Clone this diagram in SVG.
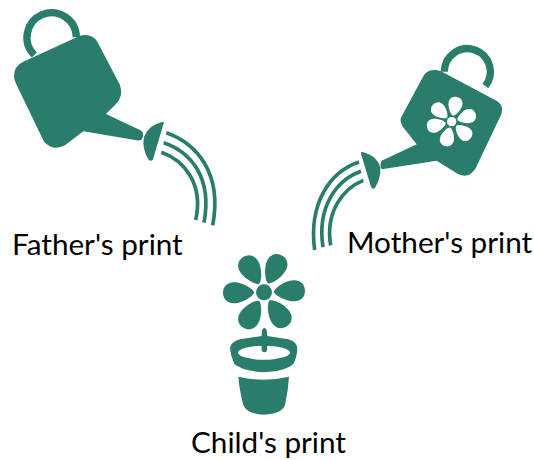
<svg xmlns="http://www.w3.org/2000/svg" width="534" height="460" viewBox="0 0 534 460">
<style>
.f{fill:#2a7d6b}
.s{fill:none;stroke:#2a7d6b;stroke-linecap:butt}
.t{font-family:"Lato","Liberation Sans",sans-serif;font-size:29.7px;fill:#000}
</style>
<defs>
<path id="petal" d="M0,-10C-3,-10 -10.5,-21 -10.5,-30C-10.5,-37 -6,-41 0,-41C6,-41 10.5,-37 10.5,-30C10.5,-21 3,-10 0,-10Z"/>
</defs>
<rect width="534" height="460" fill="#fff"/>
<g id="father-can" transform="scale(.33333)">
<path class="s" stroke-width="22" d="M103,165A74,74 0 1 1 229,112"/>
<path class="f" d="M42,232Q40,198 70,185L240,107Q275,98 292,125L360,255Q372,290 345,315L318,342L420,390Q432,397 429,410Q425,424 410,421L250,394L195,436Q160,455 132,425L50,255Q44,245 42,232Z"/>
<path class="f" d="M489,365Q445,375 432,410Q425,445 445,478Q452,487 459,478L491,370Q492,365 489,365Z"/>
<path class="s" stroke-width="11" d="M499,398C590,430 668,520 638,676"/>
<path class="s" stroke-width="11" d="M491,428C570,455 638,530 612,668"/>
<path class="s" stroke-width="11" d="M484,457C550,480 612,550 587,660"/>
</g>
<g id="mother-can" transform="translate(300,30) scale(.33333)">
<path class="s" stroke-width="22" d="M433,125A69,69 0 1 1 556,168"/>
<path class="f" d="M302,265Q300,280 312,295L350,343L245,392Q238,405 245,418L410,392L470,430Q505,450 527,415L603,255Q615,225 585,210L423,124Q390,112 372,135Z"/>
<path class="f" d="M184,365Q230,375 241,412Q243,445 225,473Q218,481 213,470L184,375Q182,367 184,365Z"/>
<path class="s" stroke-width="11" d="M177,396C90,425 25,520 44,660"/>
<path class="s" stroke-width="11" d="M183,424C110,450 50,530 69,652"/>
<path class="s" stroke-width="11" d="M190,451C130,475 75,545 92,646"/>
<g fill="#fff" transform="translate(455,275)">
<use href="#petal" transform="rotate(12) scale(2,1.85)"/>
<use href="#petal" transform="rotate(72) scale(2,1.85)"/>
<use href="#petal" transform="rotate(132) scale(2,1.85)"/>
<use href="#petal" transform="rotate(195) scale(2,1.85)"/>
<use href="#petal" transform="rotate(257) scale(2,1.85)"/>
<use href="#petal" transform="rotate(312) scale(2,1.85)"/>
<circle r="14"/>
</g>
</g>
<g id="child-plant" transform="translate(180,240) scale(.33333)">
<g class="f" transform="translate(252,157) scale(3)">
<circle r="8"/>
<use href="#petal" transform="rotate(-30)"/>
<use href="#petal" transform="rotate(25)"/>
<use href="#petal" transform="rotate(87)"/>
<use href="#petal" transform="rotate(146)"/>
<use href="#petal" transform="rotate(210)"/>
<use href="#petal" transform="rotate(269)"/>
</g>
<path class="f" d="M150,325Q152,305 180,298L245,288L246,270Q253,258 260,270L262,288L325,298Q352,305 352,328Q350,355 340,372Q320,392 252,397Q185,392 163,372Q152,350 150,325Z"/>
<ellipse cx="252" cy="338" rx="78" ry="21" fill="#fff"/>
<path class="f" d="M245,300L261,300L261,332Q253,342 245,332Z"/>
<path class="f" d="M175,410Q250,428 327,410Q325,450 315,495Q305,522 252,524Q200,522 190,495Q178,450 175,410Z"/>
</g>
<text class="t" x="12" y="255">Father's print</text>
<text class="t" x="347" y="253">Mother's print</text>
<text class="t" x="191" y="453">Child's print</text>
</svg>
